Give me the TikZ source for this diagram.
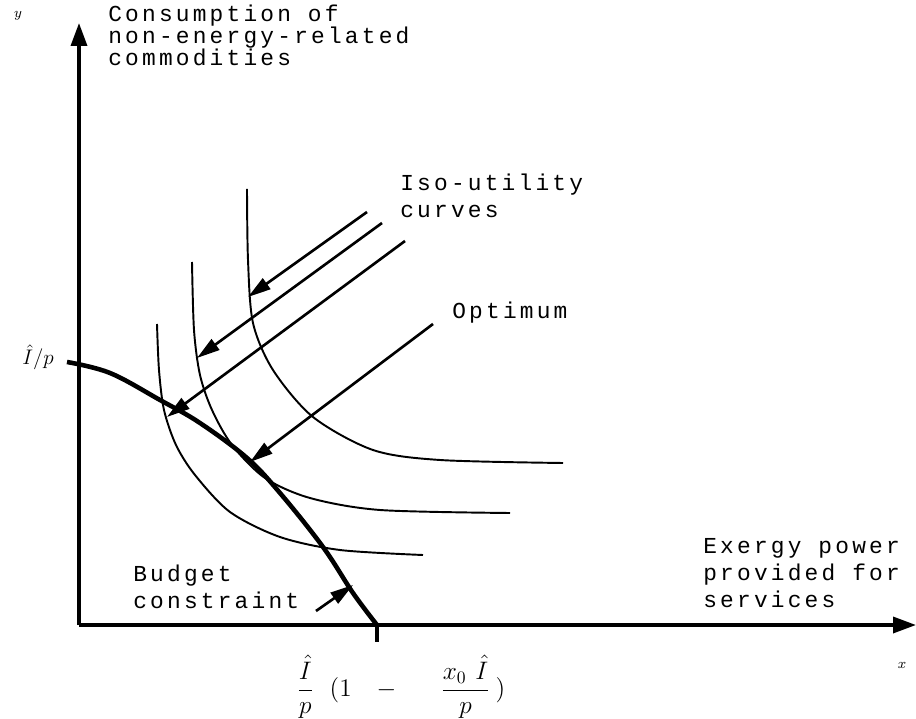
\documentclass[tikz,border=0pt]{standalone}
\usepackage{amsmath}
\usepackage{fontspec}
\newfontfamily\typefont[LetterSpace=14]{Liberation Mono}
\usetikzlibrary{arrows.meta,positioning}

\begin{document}
\begin{tikzpicture}[x=0.02cm,y=-0.02cm,
    lbl/.style={font=\typefont\fontsize{13}{15.3}\selectfont, align=left, inner sep=0pt, anchor=west},
    axis/.style={line width=2pt, -{Triangle[length=4.6mm,width=3.2mm]}},
    isocurve/.style={line width=1.1pt},
    budget/.style={line width=2.6pt},
    pointer/.style={line width=1.5pt, -{Triangle[length=4.6mm,width=2.6mm]}}]
    \useasboundingbox (0,0) rectangle (916,719);

    % axes
    \coordinate (O) at (79,625);
    \coordinate (ytop) at (79,23);
    \coordinate (xend) at (916,625);
    \draw[axis] (O) -- (ytop);
    \draw[axis] (O) -- (xend);
    \node (ylab) at (18,16) {\footnotesize$y$};
    \node (xlab) at (902,665) {\footnotesize$x$};
    \node[lbl, font=\typefont\fontsize{13}{12.5}\selectfont] (cons) at (108,35) {Consumption of\\non-energy-related\\commodities};
    \node[lbl] (exergy) at (703,573) {Exergy power\\provided for\\services};

    % iso-utility curves
    \draw[isocurve] plot[smooth] coordinates {(157,324) (159,370) (164,410) (176,445) (195,475) (230,512) (280,537) (340,550) (423,555)};
    \draw[isocurve] plot[smooth] coordinates {(192,262) (194,330) (200,375) (212,410) (232,445) (265,478) (310,498) (380,510) (510,513)};
    \draw[isocurve] plot[smooth] coordinates {(247,189) (248,260) (253,323) (273,370) (313,417) (373,450) (440,460) (563,463)};

    % budget constraint
    \draw[budget] plot[smooth, tension=0.6] coordinates {(67,362) (110,373) (160,400) (200,423) (247,458) (280,493) (323,547) (353,593) (377,625)};
    \draw[budget] (377,625) -- (377,642);
    \node[anchor=east, font=\fontsize{12}{14}\selectfont] (ihat) at (60,357) {$\hat{I}/p$};
    \node[font=\fontsize{14}{16}\selectfont] (root) at (401,687)
        {$\dfrac{\hat{I}}{p}\hspace{9pt}(1\hspace{11pt}-\hspace{22pt}\dfrac{x_{0}\hspace{5pt}\hat{I}}{p}\hspace{3pt})$};

    % labels and pointers
    \node[lbl] (iso) at (400,196) {Iso-utility\\curves};
    \node[lbl] (opt) at (452,313) {Optimum};
    \node[lbl] (bud) at (133,587) {Budget\\constraint};

    \coordinate (t1) at (367,212);  \coordinate (h1) at (248,297);
    \coordinate (t2) at (382,223);  \coordinate (h2) at (197,358);
    \coordinate (t3) at (405,241);  \coordinate (h3) at (167,417);
    \coordinate (t4) at (433,324);  \coordinate (h4) at (250,462);
    \coordinate (t5) at (316,611);  \coordinate (h5) at (353,585);
    \draw[pointer] (t1) -- (h1);
    \draw[pointer] (t2) -- (h2);
    \draw[pointer] (t3) -- (h3);
    \draw[pointer] (t4) -- (h4);
    \draw[pointer] (t5) -- (h5);
\end{tikzpicture}
\end{document}
